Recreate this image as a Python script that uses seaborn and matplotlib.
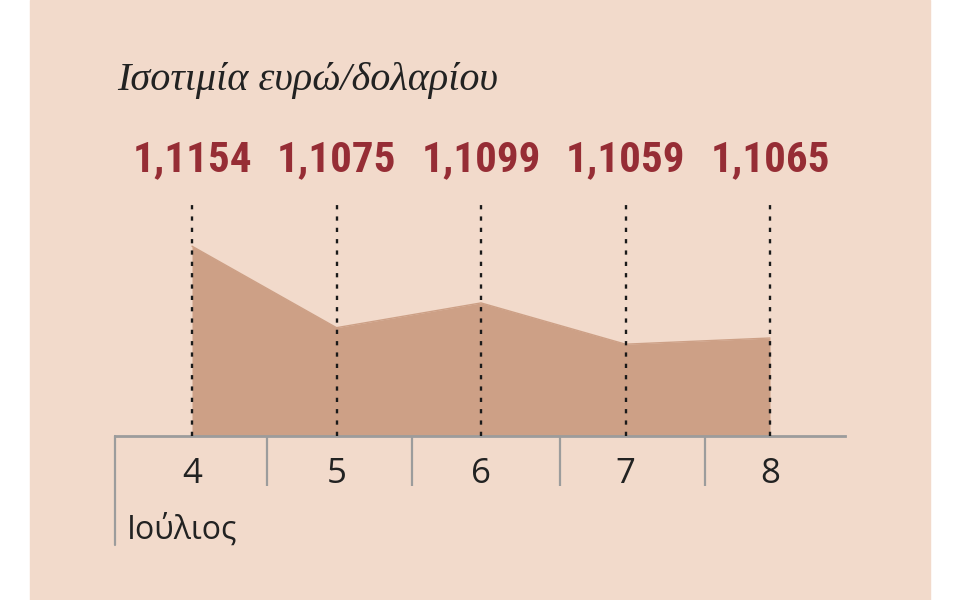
import matplotlib
matplotlib.use("Agg")
import matplotlib.pyplot as plt
import matplotlib.transforms as mtransforms
from matplotlib import font_manager
from matplotlib.patches import Rectangle
import seaborn as sns
import pandas as pd

# Ισοτιμία ευρώ/δολαρίου, 4-8 Ιουλίου
days = [4, 5, 6, 7, 8]
rates = [1.1154, 1.1075, 1.1099, 1.1059, 1.1065]
rate_labels = ["1,1154", "1,1075", "1,1099", "1,1059", "1,1065"]
title = "Ισοτιμία ευρώ/δολαρίου"
month = "Ιούλιος"

df = pd.DataFrame({"pos": range(len(days)), "rate": rates})

sns.set_theme(style="white")
plt.rcParams["font.family"] = ["Open Sans", "DejaVu Sans"]


def pick_font(names):
    for n in names:
        try:
            font_manager.findfont(font_manager.FontProperties(family=n),
                                  fallback_to_default=False)
            return n
        except Exception:
            pass
    return "DejaVu Sans"


narrow = pick_font(["Liberation Sans Narrow", "DejaVu Sans Condensed",
                    "Roboto Condensed", "Open Sans Condensed"])

bg = "#f2dacb"
fill = "#cda086"
red = "#962d35"
grey = "#9c9c9c"
ink = "#222222"

W, H = 960, 600
fig = plt.figure(figsize=(9.6, 6), dpi=100, facecolor="white")
fig.patches.append(Rectangle((30 / W, 0), 900 / W, 1, transform=fig.transFigure,
                             color=bg, zorder=-10))

ax = fig.add_axes([115 / W, 1 - 436 / H, 730 / W, 336 / H])
ax.set_facecolor("none")
ybase = 1.097
ax.set_xlim(-0.533, 4.519)
ax.set_ylim(ybase, ybase + 336 / 10316)

# area
ax.fill_between(df["pos"], ybase, df["rate"], color=fill, lw=0, zorder=1)
sns.lineplot(data=df, x="pos", y="rate", color=fill, lw=1, ax=ax, zorder=2)

blend = mtransforms.blended_transform_factory(ax.transData, ax.transAxes)
ax.vlines(df["pos"], 0, 0.708, transform=blend, colors="#1a1a1a", lw=1.7,
          linestyles=(0, (1.8, 3.0)), zorder=3)

fs = 31 if narrow != "DejaVu Sans" else 22
for p, lab in zip(df["pos"], rate_labels):
    ax.text(p, 0.822, lab, transform=blend, ha="center", va="center",
            fontsize=fs, fontweight="bold", color=red, family=narrow)

# axis
ax.set_xticks(df["pos"])
ax.set_xticklabels([str(d) for d in days])
ax.set_xticks([0.52, 1.52, 2.55, 3.55], minor=True)
ax.set_yticks([])
ax.tick_params(axis="x", which="both", bottom=True)
ax.tick_params(axis="x", which="major", length=0, pad=15, labelsize=25, labelcolor=ink)
ax.tick_params(axis="x", which="minor", length=36, width=1.6, color=grey, direction="out")
ax.set_xlabel("")
ax.set_ylabel("")
for s in ["left", "right", "top"]:
    ax.spines[s].set_visible(False)
ax.spines["bottom"].set_color(grey)
ax.spines["bottom"].set_linewidth(2)
ax.plot([0, 0], [0, -109 / 336], transform=ax.transAxes, clip_on=False,
        color=grey, lw=1.6)

fig.text(127 / W, 1 - 530 / H, month, va="center", fontsize=23, color=ink)
fig.text(117 / W, 1 - 90 / H, title, va="baseline", fontsize=29, style="italic",
         color=ink, family=["Liberation Serif", "DejaVu Serif"])

fig.savefig("out.png", dpi=100, facecolor="white")
